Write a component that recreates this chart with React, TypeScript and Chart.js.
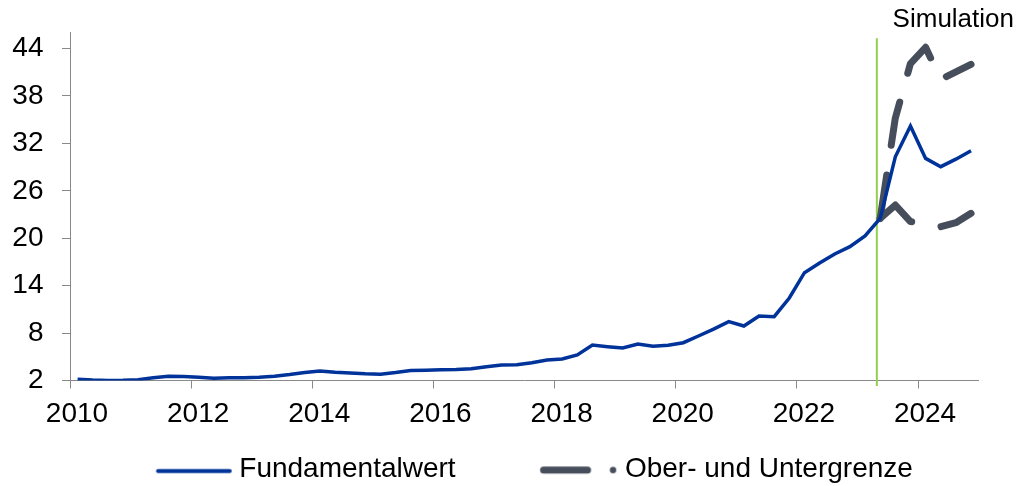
import React, { useEffect, useRef } from 'react';
import { Chart, registerables } from 'chart.js';

Chart.register(...registerables);

// ---- data ----
const firstYear = 2010; // first quarter 2010 Q1, quarterly values (mid-quarter positions)
const fundamentalwert = [
  2.15, 2.05, 2.0, 2.02, 2.1, 2.35, 2.55, 2.5, // 2010-2011
  2.4, 2.3, 2.35, 2.35, 2.4, 2.55, 2.75, 3.0, // 2012-2013
  3.2, 3.05, 2.95, 2.85, 2.8, 3.0, 3.25, 3.3, // 2014-2015
  3.35, 3.4, 3.5, 3.75, 3.96, 4.0, 4.25, 4.6, // 2016-2017
  4.72, 5.23, 6.49, 6.28, 6.11, 6.62, 6.33, 6.45, // 2018-2019
  6.78, 7.63, 8.51, 9.44, 8.89, 10.16, 10.07, 12.44, // 2020-2021
  15.64, 16.86, 18.0, 18.93, 20.28, 22.5, 30.3, 34.2, // 2022-2023
  30.1, 29.05, 30.0, 31.07, // 2024
];
const boundsStartQuarter = 53; // 2023 Q2
const obergrenze = [22.5, 35.2, 42.1, 44.15, 40.1, 41.05, 42.0];
const untergrenze = [22.5, 24.2, 22.1, 22.05, 21.45, 21.96, 23.15];
const simulationStart = 2023.32;
const simulationLineRange = [1.3, 45.3];
const yTicks = [2, 8, 14, 20, 26, 32, 38, 44];
const xTicks = [2010, 2012, 2014, 2016, 2018, 2020, 2022, 2024];
const seriesLabels = ['Fundamentalwert', 'Ober- und Untergrenze'];
const simulationLabel = 'Simulation';

// ---- styles ----
const FONT = '"Liberation Sans", Arial, Helvetica, sans-serif';
const BLUE = '#00339a';
const GRAY = '#474e5b';
const GREEN = '#92d050';
const AXIS = '#898989';

const qx = (i: number) => firstYear + (i + 0.5) / 4;

function makeSample(kind: 'solid' | 'dashed'): HTMLCanvasElement {
  const c = document.createElement('canvas');
  c.width = 170;
  c.height = 16;
  const g = c.getContext('2d')!;
  g.lineCap = 'round';
  if (kind === 'solid') {
    g.strokeStyle = BLUE;
    g.lineWidth = 4;
    g.beginPath();
    g.moveTo(94.35, 9.7);
    g.lineTo(166.05, 9.7);
    g.stroke();
  } else {
    g.strokeStyle = GRAY;
    g.fillStyle = GRAY;
    g.lineWidth = 7;
    g.beginPath();
    g.moveTo(94.25, 8.7);
    g.lineTo(138.25, 8.7);
    g.stroke();
    g.beginPath();
    g.arc(163.75, 8.7, 3.2, 0, Math.PI * 2);
    g.fill();
  }
  return c;
}

const simulationTextPlugin = {
  id: 'simulationText',
  afterDraw(chart: any) {
    const ctx = chart.ctx;
    ctx.save();
    ctx.font = `26px ${FONT}`;
    ctx.fillStyle = '#000';
    ctx.textAlign = 'right';
    ctx.textBaseline = 'middle';
    ctx.fillText(simulationLabel, 1014, 19.5);
    ctx.restore();
  },
};

export default function App() {
  const ref = useRef<HTMLCanvasElement>(null);

  useEffect(() => {
    if (!ref.current) return;
    const solid = makeSample('solid');
    const dashed = makeSample('dashed');

    const fundData = fundamentalwert.map((v, i) => ({ x: qx(i), y: v }));
    const upperData = obergrenze.map((v, i) => ({ x: qx(boundsStartQuarter + i), y: v }));
    const lowerData = untergrenze.map((v, i) => ({ x: qx(boundsStartQuarter + i), y: v }));
    const greenData = simulationLineRange.map((v) => ({ x: simulationStart, y: v }));

    const chart = new Chart(ref.current, {
      type: 'line',
      data: {
        datasets: [
          {
            label: seriesLabels[0],
            data: fundData,
            borderColor: BLUE,
            borderWidth: 3.5,
            pointRadius: 0,
            tension: 0,
          },
          {
            label: seriesLabels[1],
            data: upperData,
            borderColor: GRAY,
            borderWidth: 7,
            borderDash: [44, 30],
            borderCapStyle: 'round',
            borderJoinStyle: 'round',
            pointRadius: 0,
          },
          {
            label: seriesLabels[1] + ' (unten)',
            data: lowerData,
            borderColor: GRAY,
            borderWidth: 7,
            borderDash: [44, 30],
            borderCapStyle: 'round',
            borderJoinStyle: 'round',
            pointRadius: 0,
          },
          {
            label: simulationLabel,
            data: greenData,
            borderColor: GREEN,
            borderWidth: 2,
            pointRadius: 0,
            clip: false as any,
          },
        ],
      },
      options: {
        animation: false,
        responsive: false,
        devicePixelRatio: 1,
        events: [],
        layout: { padding: { left: 0, right: 39.4, top: 32.7, bottom: -7.3 } },
        scales: {
          x: {
            type: 'linear',
            min: 2010,
            max: 2025,
            afterBuildTicks: (s: any) => {
              s.ticks = xTicks.map((v) => ({ value: v }));
            },
            afterFit: (s: any) => {
              s.height = 72.8;
            },
            grid: { display: true, drawOnChartArea: false, drawTicks: true, tickLength: 8, color: AXIS, lineWidth: 1 },
            border: { display: true, color: AXIS, width: 1 },
            ticks: {
              autoSkip: false,
              maxRotation: 0,
              padding: 9,
              labelOffset: 7,
              color: '#000',
              font: { family: FONT, size: 28 },
              callback: (v: any) => String(v),
            },
          },
          y: {
            type: 'linear',
            min: 2,
            max: 46,
            afterBuildTicks: (s: any) => {
              s.ticks = yTicks.map((v) => ({ value: v }));
            },
            afterFit: (s: any) => {
              s.width = 70;
              s.paddingTop = 0;
              s.paddingBottom = 0;
            },
            grid: { display: true, drawOnChartArea: false, drawTicks: true, tickLength: 8, color: AXIS, lineWidth: 1 },
            border: { display: true, color: AXIS, width: 1 },
            ticks: {
              padding: 18.5,
              color: '#000',
              font: { family: FONT, size: 28 },
              callback: (v: any) => String(v),
            },
          },
        },
        plugins: {
          tooltip: { enabled: false },
          title: { display: false },
          legend: {
            display: true,
            position: 'bottom',
            align: 'start',
            fullSize: false,
            labels: {
              usePointStyle: true,
              pointStyleWidth: 153.3,
              padding: 2,
              color: '#000',
              font: { family: FONT, size: 28 },
              generateLabels: () => [
                {
                  text: seriesLabels[0],
                  pointStyle: solid,
                  fillStyle: BLUE,
                  strokeStyle: BLUE,
                  lineWidth: 0,
                  hidden: false,
                  datasetIndex: 0,
                },
                {
                  text: seriesLabels[1],
                  pointStyle: dashed,
                  fillStyle: GRAY,
                  strokeStyle: GRAY,
                  lineWidth: 0,
                  hidden: false,
                  datasetIndex: 1,
                },
              ],
            },
          },
        },
      } as any,
      plugins: [simulationTextPlugin],
    });

    return () => chart.destroy();
  }, []);

  return (
    <div style={{ position: 'absolute', left: 0, top: 0, width: 1018, height: 486 }}>
      <canvas ref={ref} width={1018} height={486} style={{ display: 'block' }} />
    </div>
  );
}
